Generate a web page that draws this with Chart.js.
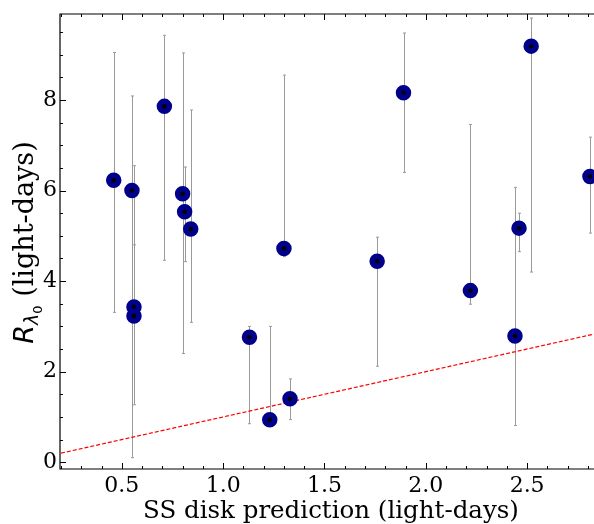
<!DOCTYPE html>
<html>
<head>
<meta charset="utf-8">
<script src="https://cdn.jsdelivr.net/npm/chart.js@4.4.1/dist/chart.umd.min.js"></script>
<style>
  html, body { margin: 0; padding: 0; background: #fff; overflow: hidden; width: 594px; height: 524px; }
  canvas { display: block; }
</style>
</head>
<body>
<canvas id="chart" width="594" height="524"></canvas>
<script>
// measured lags vs. standard (SS) thin disk prediction
const ssPrediction = [0.46, 0.55, 0.56, 0.56, 0.71, 0.80, 0.81, 0.84, 1.13, 1.23, 1.33, 1.30, 1.89, 1.76, 2.22, 2.44, 2.46, 2.52, 2.81]
const lagRadius    = [6.23, 6.00, 3.43, 3.23, 7.86, 5.93, 5.53, 5.15, 2.76, 0.94, 1.40, 4.72, 8.16, 4.44, 3.79, 2.79, 5.17, 9.19, 6.31]
const lagLow       = [3.31, 0.10, 3.10, 1.27, 4.46, 2.40, 4.43, 3.09, 0.85, 0.80, 0.94, 4.54, 6.40, 2.12, 3.49, 0.81, 4.65, 4.20, 5.06]
const lagHigh      = [9.05, 8.09, 6.55, 4.80, 9.43, 9.04, 6.52, 7.78, 3.00, 3.00, 1.84, 8.55, 9.48, 4.97, 7.46, 6.07, 5.50, 9.81, 7.18]

// one-to-one line
const oneToOneX = [0.2, 2.83]
const oneToOneY = [0.2, 2.83]

const xTickValues = [0.5, 1.0, 1.5, 2.0, 2.5]
const yTickValues = [0, 2, 4, 6, 8]

// the right-hand edge of the axes sits just past the window
const X_MIN = 0.195, X_MAX = 2.83
const Y_MIN = -0.15, Y_MAX = 9.9

const serif = "'DejaVu Serif', 'Liberation Serif', serif"
const sans = "'DejaVu Sans', sans-serif"

const axesPlugin = {
    id: 'axesDecor',
    beforeDatasetsDraw(chart) {
        // error bars under the markers
        const { ctx, scales: { x, y } } = chart
        ctx.save()
        ctx.strokeStyle = '#9a9a9a'
        ctx.lineWidth = 1
        ssPrediction.forEach((v, i) => {
            const px = Math.round(x.getPixelForValue(v)) + 0.5
            const top = y.getPixelForValue(lagHigh[i])
            const bot = y.getPixelForValue(lagLow[i])
            ctx.beginPath()
            ctx.moveTo(px, top); ctx.lineTo(px, bot)
            ctx.moveTo(px - 1.5, top); ctx.lineTo(px + 1.5, top)
            ctx.moveTo(px - 1.5, bot); ctx.lineTo(px + 1.5, bot)
            ctx.stroke()
        })
        ctx.restore()
    },
    afterDatasetsDraw(chart) {
        const { ctx, chartArea: a, scales: { x, y } } = chart
        ctx.save()
        ctx.strokeStyle = '#000'
        ctx.lineWidth = 1.2
        // left, top and bottom spines (right one is outside the picture)
        ctx.beginPath()
        ctx.moveTo(a.right + 2, a.top); ctx.lineTo(a.left, a.top)
        ctx.lineTo(a.left, a.bottom); ctx.lineTo(a.right + 2, a.bottom)
        ctx.stroke()

        // inward ticks
        ctx.lineWidth = 1
        ctx.beginPath()
        for (let k = Math.ceil(X_MIN * 10); k <= X_MAX * 10; k++) {
            const v = k / 10
            const len = xTickValues.some(t => Math.abs(t - v) < 1e-6) ? 6 : 3
            const px = Math.round(x.getPixelForValue(v)) + 0.5
            ctx.moveTo(px, a.bottom); ctx.lineTo(px, a.bottom - len)
            ctx.moveTo(px, a.top); ctx.lineTo(px, a.top + len)
        }
        for (let k = Math.ceil(Y_MIN * 2); k <= Y_MAX * 2; k++) {
            const v = k / 2
            const len = yTickValues.some(t => Math.abs(t - v) < 1e-6) ? 6 : 3
            const py = Math.round(y.getPixelForValue(v)) + 0.5
            ctx.moveTo(a.left, py); ctx.lineTo(a.left + len, py)
        }
        ctx.stroke()

        // x axis title
        ctx.fillStyle = '#000'
        ctx.font = `24.5px ${serif}`
        ctx.textAlign = 'center'
        ctx.textBaseline = 'alphabetic'
        ctx.fillText('SS disk prediction (light-days)', 331, 518)

        // y axis title with R_{lambda_0}
        const parts = [
            { text: 'R', font: `italic 27px ${sans}`, dy: 0 },
            { text: 'λ', font: `italic 19px ${sans}`, dy: 5 },
            { text: '0', font: `13px ${sans}`, dy: 9 },
            { text: ' (light-days)', font: `27px ${serif}`, dy: 0 }
        ]
        let total = 0
        parts.forEach(p => { ctx.font = p.font; p.w = ctx.measureText(p.text).width; total += p.w })
        ctx.translate(33, 242.5)
        ctx.rotate(-Math.PI / 2)
        ctx.textAlign = 'left'
        let cx = -total / 2
        parts.forEach(p => {
            ctx.font = p.font
            ctx.fillText(p.text, cx, p.dy)
            cx += p.w
        })
        ctx.restore()
    }
}

new Chart(document.getElementById('chart'), {
    type: 'scatter',
    data: {
        datasets: [
            {
                data: ssPrediction.map((v, i) => ({ x: v, y: lagRadius[i] })),
                pointRadius: 5,
                pointBorderWidth: 5.5,
                pointBorderColor: '#00008b',
                pointBackgroundColor: '#000',
                pointHoverRadius: 5,
                clip: false,
                order: 1
            },
            {
                type: 'line',
                data: oneToOneX.map((v, i) => ({ x: v, y: oneToOneY[i] })),
                borderColor: '#ff0000',
                borderWidth: 1.2,
                borderDash: [4, 2],
                pointRadius: 0,
                fill: false,
                order: 2
            }
        ]
    },
    options: {
        responsive: false,
        devicePixelRatio: 1,
        animation: false,
        layout: { autoPadding: false, padding: { top: 14, right: 0, left: 0, bottom: 0 } },
        plugins: { legend: { display: false }, tooltip: { enabled: false } },
        scales: {
            x: {
                type: 'linear',
                min: X_MIN,
                max: X_MAX,
                grid: { display: false, drawTicks: false },
                border: { display: false },
                ticks: {
                    color: '#000',
                    font: { family: serif, size: 22 },
                    padding: 4,
                    maxRotation: 0,
                    autoSkip: false,
                    callback: v => Number(v).toFixed(1)
                },
                afterBuildTicks: s => { s.ticks = xTickValues.map(v => ({ value: v })) },
                afterFit: s => { s.height = 55; s.paddingLeft = 0; s.paddingRight = 0 }
            },
            y: {
                type: 'linear',
                min: Y_MIN,
                max: Y_MAX,
                grid: { display: false, drawTicks: false },
                border: { display: false },
                ticks: {
                    color: '#000',
                    font: { family: serif, size: 22 },
                    padding: 3,
                    autoSkip: false,
                    callback: v => String(v)
                },
                afterBuildTicks: s => { s.ticks = yTickValues.map(v => ({ value: v })) },
                afterFit: s => { s.width = 60; s.paddingTop = 0; s.paddingBottom = 0 }
            }
        }
    },
    plugins: [axesPlugin]
})
</script>
</body>
</html>
